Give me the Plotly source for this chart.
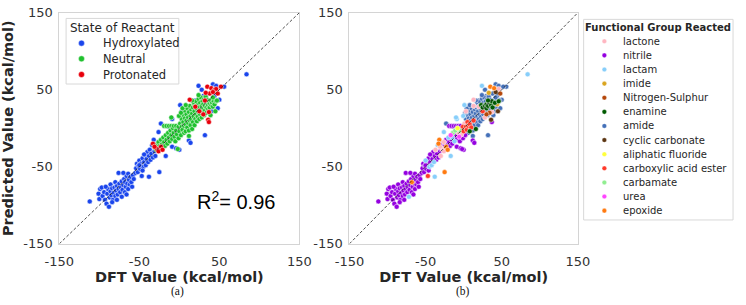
import plotly.graph_objects as go

W, H = 746, 305

# ---------------- data (DFT value, predicted value, functional-group code) ----------------
state_names = ["Hydroxylated", "Neutral", "Protonated"]
state_colors = ["#1a45ec", "#1fc12e", "#e8000b"]

group_codes = ["LT", "NI", "LA", "IM", "NS", "EN", "AM", "CC", "AF", "CE", "CB", "UR", "EP"]
group_names = ["lactone", "nitrile", "lactam", "imide", "Nitrogen-Sulphur", "enamine", "amide",
               "cyclic carbonate", "aliphatic fluoride", "carboxylic acid ester", "carbamate",
               "urea", "epoxide"]
group_colors = ["#ffb6c1", "#9400e0", "#87cefa", "#daa520", "#b5470b", "#005a00", "#4470b8",
                "#5c3512", "#ffff3a", "#ff3a2a", "#90ee90", "#ff44ff", "#ff7a10"]

hydroxylated = [
    (-112, -95, "NI"), (-101, -85, "NI"), (-100, -92, "NI"), (-99, -79, "NI"), (-97, -77, "NI"),
    (-96, -88, "NI"), (-94, -83, "NI"), (-93, -93, "NI"), (-91, -98, "NI"), (-90, -85, "NI"),
    (-89, -79, "NI"), (-88, -102, "NI"), (-87, -90, "NI"), (-86, -82, "NI"), (-86, -73, "NI"),
    (-85, -87, "NI"), (-84, -78, "NI"), (-83, -93, "NI"), (-82, -84, "NI"), (-81, -77, "NI"),
    (-80, -88, "NI"), (-80, -70, "NI"), (-79, -81, "NI"), (-78, -75, "NI"), (-77, -86, "NI"),
    (-76, -79, "NI"), (-76, -58, "NI"), (-75, -72, "NI"), (-74, -83, "NI"), (-73, -77, "NI"),
    (-72, -89, "LA"), (-72, -69, "NI"), (-71, -80, "NI"), (-70, -74, "NI"), (-69, -66, "NI"),
    (-68, -70, "EP"), (-68, -83, "NI"), (-67, -76, "NI"), (-66, -62, "NI"), (-65, -72, "NI"),
    (-64, -79, "NI"), (-64, -59, "NI"), (-63, -67, "NI"), (-62, -73, "NI"), (-61, -63, "NI"),
    (-60, -70, "NI"), (-59, -76, "NI"), (-58, -61, "NI"), (-57, -66, "NI"), (-55, -58, "NI"),
    (-84, -96, "NI"), (-78, -93, "NI"), (-92, -76, "NI"), (-70, -58, "NI"), (-66, -86, "NI"),
    (-54, -52, "NI"), (-53, -46, "NI"), (-52, -57, "NI"), (-51, -49, "NI"), (-50, -42, "LA"),
    (-49, -53, "NI"), (-48, -46, "NI"), (-47, -62, "CE"), (-46, -39, "NI"), (-45, -50, "LA"),
    (-44, -44, "NI"), (-43, -35, "NI"), (-42, -48, "LA"), (-41, -40, "NI"), (-40, -31, "NI"),
    (-39, -44, "LA"), (-38, -63, "LA"), (-38, -36, "NI"), (-37, -28, "LT"), (-36, -41, "NI"),
    (-35, -33, "NI"), (-34, -22, "LA"), (-33, -38, "NI"), (-32, -15, "EP"), (-31, -30, "NI"),
    (-30, -36, "LT"), (-29, -25, "NI"), (-25, -57, "EP"), (-27, -19, "NI"), (-44, -34, "NI"),
    (-50, -48, "NI"), (-46, -55, "NI"),
    (-23, 6, "AM"), (-20, -17, "NI"), (-17, -36, "LA"), (-13, 2, "NI"), (-9, -24, "NI"),
    (-9, 12, "LA"), (-4, -26, "NI"), (0, -28, "NI"), (1, 30, "LA"), (3, 22, "LT"),
    (7, 11, "AM"), (12, -16, "NI"), (14, -19, "NI"), (24, 55, "LA"), (28, 50, "AM"),
    (30, 42, "AM"), (32, -9, "AM"), (34, 44, "AM"), (40, 22, "AM"), (42, 57, "AM"),
    (44, 42, "AM"), (46, 55, "AM"), (48, 26, "AM"), (50, 37, "AM"), (56, 54, "AM"),
    (84, 70, "LA"), (20, 36, "AM"), (10, 28, "AM"), (-26, -5, "LA"), (-15, -12, "LA"),
]

neutral = [
    (-30, -24, "NI"), (-29, -28, "NI"), (-28, -21, "NI"), (-27, -26, "NI"), (-26, -18, "LT"),
    (-25, -23, "NI"), (-24, -28, "NI"), (-23, -15, "NI"), (-22, -21, "NI"), (-21, -25, "NI"),
    (-20, -12, "LA"), (-19, -18, "NI"), (-19, 3, "NI"), (-18, -23, "NI"), (-17, -9, "UR"),
    (-16, 3, "NI"), (-16, -15, "NI"), (-15, -20, "NI"), (-14, -6, "CB"), (-13, 3, "NI"),
    (-13, -12, "NI"), (-12, -17, "LA"), (-11, -3, "CB"), (-10, 3, "NI"), (-10, -9, "NI"),
    (-9, -14, "NI"), (-8, 0, "AF"), (-7, 3, "NI"), (-7, -6, "LT"), (-6, -11, "UR"),
    (-5, -17, "NI"), (-4, 3, "NI"), (-4, -3, "CB"), (-3, -8, "LT"), (-2, -27, "NI"),
    (-1, 2, "CE"), (-1, -13, "NI"), (0, -4, "CE"), (1, 6, "LT"), (2, -9, "NI"),
    (3, 2, "CE"), (3, 12, "AM"), (4, -2, "CE"), (5, 8, "CE"), (5, 17, "AM"),
    (6, -6, "AM"), (6, 3, "CE"), (7, 13, "AM"), (7, 22, "AM"), (8, 5, "CE"),
    (8, -4, "EN"), (9, 10, "AM"), (9, 18, "AM"), (10, 1, "CE"), (10, 26, "AM"),
    (11, 7, "AM"), (11, 14, "AM"), (12, 21, "AM"), (12, -3, "AM"), (13, 10, "CE"),
    (13, 29, "LT"), (14, 16, "AM"), (14, 4, "AM"), (15, 24, "AM"), (15, 11, "AM"),
    (16, 19, "AM"), (16, -1, "EN"), (17, 27, "AM"), (17, 8, "AM"), (18, 15, "AM"),
    (18, 33, "AM"), (19, 22, "AM"), (19, 4, "AM"), (20, 12, "AM"), (20, 28, "AM"),
    (-0.5, 16, "LA"), (2, 20, "AM"), (4, 26, "AM"), (8, 30, "AM"), (12, -10, "AM"),
    (21, 18, "AM"), (21, 35, "AM"), (22, 25, "AM"), (22, 9, "AM"), (23, 30, "EN"),
    (23, 15, "AM"), (24, 21, "AM"), (24, 38, "AM"), (25, 27, "EN"), (25, 12, "AM"),
    (26, 33, "AM"), (26, 18, "AM"), (27, 24, "AM"), (27, 40, "AM"), (28, 29, "EN"),
    (28, 14, "LT"), (29, 35, "AM"), (29, 21, "AM"), (30, 26, "EN"), (30, 31, "EN"),
    (31, 38, "AM"), (31, 17, "AM"), (32, 29, "EN"), (32, 23, "AM"), (33, 34, "EN"),
    (33, 41, "AM"), (34, 27, "AM"), (34, 20, "NS"), (35, 32, "EN"), (35, 37, "AM"),
    (36, 25, "AM"), (36, 30, "EN"), (37, 35, "EN"), (37, 21, "AM"), (38, 32, "AM"),
    (38, 27, "EN"), (39, 36, "AM"), (40, 30, "AM"), (41, 33, "EN"), (42, 28, "AM"),
    (43, 35, "AM"), (44, 31, "IM"), (46, 35, "EN"), (47, 36, "AM"), (45, 22, "CC"),
    (24, 43, "AM"), (16, 36, "AM"), (39, 17, "AM"), (42, 40, "AM"), (-10, 14, "LA"),
]

protonated = [
    (-28, -27, "LT"), (-23, -24, "EP"), (-33, -20, "EP"), (-31, -24, "LT"), (-26, -30, "LT"),
    (-21, -28, "EP"), (13, 37, "LT"), (25, 22, "CE"), (30, 18, "NS"), (36, 11, "CC"),
    (37, 8, "NI"), (20, 28, "LT"), (32, 36, "EN"), (35, 54, "EP"), (40, 52, "EP"),
    (44, 50, "LT"), (46, 51, "LT"), (52, 54, "AM"), (38, 45, "AM"), (48, 45, "NS"),
    (33, 46, "IM"), (42, 47, "CC"), (37, 21, "LT"),
]

axis_ticks = [-150, -50, 50, 150]
axis_ticktext = ["-150", "-50", "50", "150"]
axis_range = [-150, 150]

# ---------------- figure ----------------
def pxx(x):
    return x / W

def pxy(y):
    return 1 - y / H

fig = go.Figure()
mk = dict(size=5, line=dict(color="white", width=0.5))

states = [hydroxylated, neutral, protonated]
for name, color, pts in zip(state_names, state_colors, states):
    fig.add_trace(go.Scatter(
        x=[p[0] for p in pts], y=[p[1] for p in pts], mode="markers", name=name,
        marker=dict(color=color, **mk), xaxis="x", yaxis="y", showlegend=False))

all_pts = hydroxylated + neutral + protonated
draw_order = ["AM", "NI", "LA", "LT", "CB", "UR", "AF", "IM", "NS", "CE", "EN", "CC", "EP"]
for code in draw_order:
    i = group_codes.index(code)
    pts = [p for p in all_pts if p[2] == code]
    fig.add_trace(go.Scatter(
        x=[p[0] for p in pts], y=[p[1] for p in pts], mode="markers", name=group_names[i],
        marker=dict(color=group_colors[i], **mk), xaxis="x2", yaxis="y2", showlegend=False))

tickfont = dict(family="DejaVu Sans", size=13, color="#333333")
titlefont = dict(family="DejaVu Sans", size=14.5, color="#262626", weight="bold")
base = dict(range=axis_range, tickvals=axis_ticks, ticktext=axis_ticktext, showgrid=False,
            zeroline=False, showline=True, linecolor="#d4d4d4", linewidth=1, mirror=True,
            ticks="outside", tickcolor="rgba(0,0,0,0)", tickfont=tickfont,
            ticklabeloverflow="allow")
xbase = dict(base, ticklen=6)
ybase = dict(base, ticklen=3)

ydom = [pxy(249), pxy(6)]
fig.update_layout(
    width=W, height=H, margin=dict(l=0, r=0, t=0, b=0),
    paper_bgcolor="white", plot_bgcolor="white",
    xaxis=dict(domain=[pxx(46), pxx(295)], anchor="y",
               title=dict(text="DFT Value (kcal/mol)", font=titlefont, standoff=2), **xbase),
    yaxis=dict(domain=ydom, anchor="x",
               title=dict(text="Predicted Value (kcal/mol)", font=titlefont, standoff=6), **ybase),
    xaxis2=dict(domain=[pxx(347), pxx(584)], anchor="y2",
                title=dict(text="DFT Value (kcal/mol)", font=titlefont, standoff=2), **xbase),
    yaxis2=dict(domain=ydom, anchor="x2", **ybase),
)

shapes = []
for xr, yr in [("x", "y"), ("x2", "y2")]:
    shapes.append(dict(type="line", xref=xr, yref=yr, x0=axis_range[0], y0=axis_range[0],
                       x1=axis_range[1], y1=axis_range[1], layer="above",
                       line=dict(color="#222222", width=0.8, dash="3px,2px")))

annotations = []
legend_text = dict(family="DejaVu Sans", color="#262626")

# legend (a)
shapes.append(dict(type="rect", xref="paper", yref="paper", x0=pxx(53), x1=pxx(170),
                   y0=pxy(81), y1=pxy(12), line=dict(color="#d8d8d8", width=1),
                   fillcolor="rgba(255,255,255,0.9)", layer="above"))
annotations.append(dict(text="State of Reactant", xref="paper", yref="paper", x=pxx(111.5),
                        y=pxy(22), xanchor="center", yanchor="middle", showarrow=False,
                        font=dict(size=12, **legend_text)))
for i, (name, color) in enumerate(zip(state_names, state_colors)):
    yy = 38 + i * 16.5
    shapes.append(dict(type="circle", xref="paper", yref="paper", xsizemode="pixel",
                       ysizemode="pixel", xanchor=pxx(69), yanchor=pxy(yy),
                       x0=-3, x1=3, y0=-3, y1=3, fillcolor=color,
                       line=dict(color="white", width=0.4), layer="above"))
    annotations.append(dict(text=name, xref="paper", yref="paper", x=pxx(89), y=pxy(yy),
                            xanchor="left", yanchor="middle", showarrow=False,
                            font=dict(size=11.5, **legend_text)))

# legend (b)
shapes.append(dict(type="rect", xref="paper", yref="paper", x0=pxx(590), x1=pxx(745),
                   y0=pxy(224), y1=pxy(13), line=dict(color="#d8d8d8", width=1),
                   fillcolor="white", layer="above"))
annotations.append(dict(text="Functional Group Reacted", xref="paper", yref="paper",
                        x=pxx(667.5), y=pxy(21.5), xanchor="center", yanchor="middle",
                        showarrow=False, font=dict(size=10, weight="bold", **legend_text)))
for i, (name, color) in enumerate(zip(group_names, group_colors)):
    yy = 36 + i * 14.85
    shapes.append(dict(type="circle", xref="paper", yref="paper", xsizemode="pixel",
                       ysizemode="pixel", xanchor=pxx(611.5), yanchor=pxy(yy),
                       x0=-2.3, x1=2.3, y0=-2.3, y1=2.3, fillcolor=color,
                       line=dict(color="white", width=0.3), layer="above"))
    annotations.append(dict(text=name, xref="paper", yref="paper", x=pxx(629), y=pxy(yy),
                            xanchor="left", yanchor="middle", showarrow=False,
                            font=dict(size=10, **legend_text)))

# R^2 and panel labels
annotations.append(dict(text="R<sup>2</sup>= 0.96", xref="paper", yref="paper", x=pxx(229),
                        y=pxy(203), xanchor="center", yanchor="middle", showarrow=False,
                        font=dict(family="Liberation Sans", size=20, color="black")))
for lab, xc in [("(a)", 169), ("(b)", 465)]:
    annotations.append(dict(text=lab, xref="paper", yref="paper", x=pxx(xc), y=0,
                            xanchor="center", yanchor="bottom", showarrow=False, borderpad=0,
                            yshift=-2,
                            font=dict(family="Liberation Serif", size=11.5, color="#111111")))

fig.update_layout(shapes=shapes, annotations=annotations)
fig.write_html("out.html")
